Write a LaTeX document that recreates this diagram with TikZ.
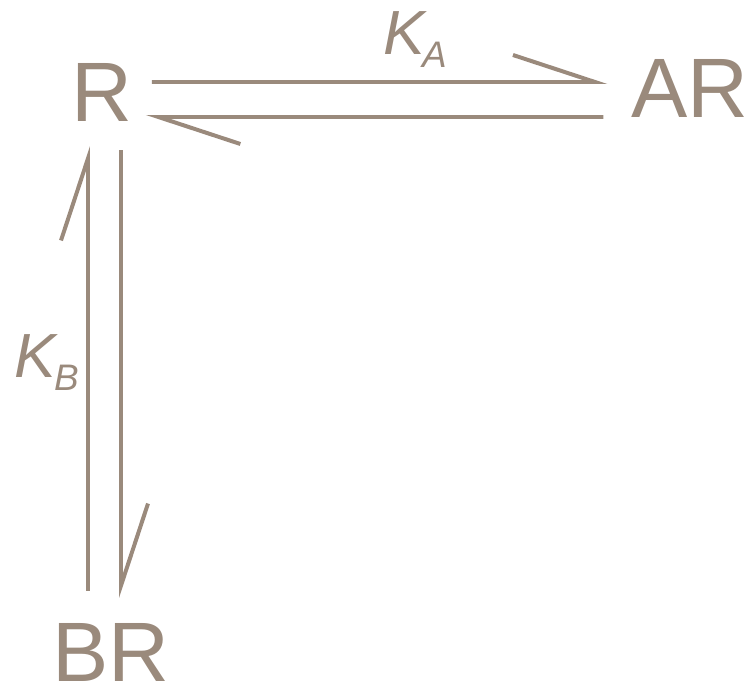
\documentclass[tikz,border=0pt]{standalone}
\usepackage{fontspec}
\setmainfont{Liberation Sans}
\usetikzlibrary{arrows.meta, positioning}
\definecolor{speciescolor}{HTML}{9A8A7C}

\newcommand{\rateconst}[1]{\textit{K}\kern-0.08cm\raisebox{-0.26cm}{\fontsize{21}{24}\selectfont\textit{#1}}}

\begin{document}
\begin{tikzpicture}[
    line width=2.27pt,
    species/.style={text=speciescolor, inner sep=0pt, font=\fontsize{48}{58}\selectfont},
    ratelabel/.style={text=speciescolor, inner sep=0pt, anchor=base west, font=\fontsize{35.5}{40}\selectfont},
    harp/.style={draw=speciescolor, -{Straight Barb[harpoon, length=1.64cm, width=1.08cm]}}
]

    % Canvas
    \useasboundingbox (0, 0) rectangle (15.02, 13.76);

    % Species
    \node[species] (R) at (2.04, 11.91) {R};
    \node[species] (AR) at (13.80, 12.00) {AR};
    \node[species] (BR) at (2.22, 0.71) {BR};

    % Rate constants
    \node[ratelabel] (ka) at (7.62, 12.66) {\rateconst{A}};
    \node[ratelabel] (kb) at (0.26, 6.22) {\rateconst{B}};

    % Binding of A
    \draw[harp] ([xshift=0.35cm, yshift=0.21cm]R.east) -- ([xshift=-0.44cm, yshift=0.12cm]AR.west);
    \draw[harp] ([xshift=-0.52cm, yshift=-0.58cm]AR.west) -- ([xshift=0.23cm, yshift=-0.49cm]R.east);

    % Binding of B
    \draw[harp] ([xshift=-0.46cm, yshift=0.61cm]BR.north) -- ([xshift=-0.28cm, yshift=-0.45cm]R.south);
    \draw[harp] ([xshift=0.38cm, yshift=-0.53cm]R.south) -- ([xshift=0.20cm, yshift=0.47cm]BR.north);

\end{tikzpicture}
\end{document}
